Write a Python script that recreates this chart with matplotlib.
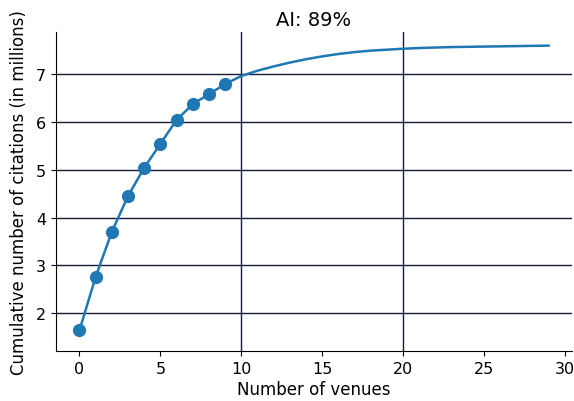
import matplotlib
matplotlib.use("Agg")
import matplotlib.pyplot as plt

venues = list(range(30))
citations = [1.64, 2.76, 3.70, 4.45, 5.04, 5.54, 6.04, 6.37, 6.58, 6.79,
             6.96, 7.07, 7.16, 7.24, 7.31, 7.37, 7.42, 7.46, 7.49, 7.51,
             7.53, 7.545, 7.555, 7.565, 7.57, 7.575, 7.58, 7.585, 7.59, 7.595]
n_marked = 10
title = "AI: 89%"

fig = plt.figure(figsize=(5.74, 4.02), dpi=100)
ax = fig.add_axes([56/574, 1 - 352/402, (572-56)/574, (352-33)/402])
grid_color = "#141c36"
for y in range(2, 8):
    ax.axhline(y, color=grid_color, lw=1.0, zorder=1)
for x in (10, 20):
    ax.axvline(x, color=grid_color, lw=1.0, zorder=1)
ax.plot(venues, citations, color="#1f77b4", lw=1.8, zorder=3)
ax.plot(venues[:n_marked], citations[:n_marked], 'o', color="#1f77b4", ms=8.5, zorder=4)
ax.set_ylim(1.21, 7.88)
ax.set_xticks([0, 5, 10, 15, 20, 25, 30])
ax.set_yticks([2, 3, 4, 5, 6, 7])
ax.spines['top'].set_visible(False)
ax.spines['right'].set_visible(False)
ax.tick_params(labelsize=11.5)
ax.set_xlabel("Number of venues", fontsize=12, labelpad=3)
ax.set_ylabel("Cumulative number of citations (in millions)", fontsize=12, labelpad=6)
ax.set_title(title, fontsize=14, pad=5)
fig.savefig("out.png", dpi=100)
